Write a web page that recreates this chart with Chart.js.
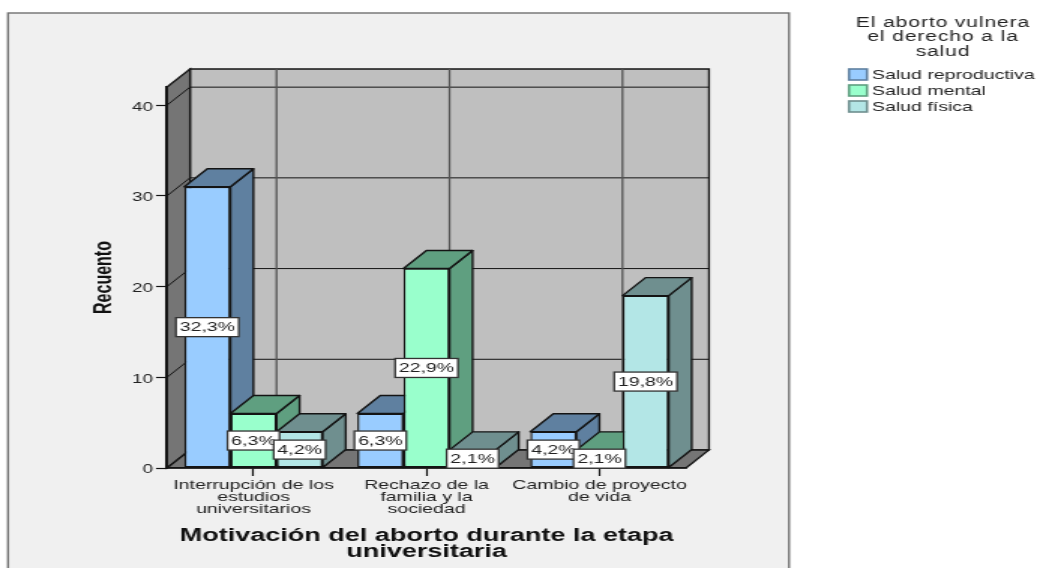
<!DOCTYPE html>
<html>
<head>
<meta charset="utf-8">
<title>Motivación del aborto</title>
<script src="https://cdn.jsdelivr.net/npm/chart.js@4"></script>
<style>
  html, body { margin: 0; padding: 0; background: #fff; overflow: hidden; width: 1037px; height: 568px; }
  /* the source picture is stretched sideways, so the whole canvas is too */
  #mycanvas { position: absolute; left: 0; top: 0; transform-origin: 0 0; filter: blur(0.35px); }
</style>
</head>
<body>
<canvas id="mycanvas" width="691" height="568"></canvas>
<script>
var categories = [
    ["Interrupción de los", "estudios", "universitarios"],
    ["Rechazo de la", "familia y la", "sociedad"],
    ["Cambio de proyecto", "de vida"]
];
var saludReproductiva = [31, 6, 4];
var saludMental = [6, 22, 2];
var saludFisica = [4, 2, 19];
var pctReproductiva = ["32,3%", "6,3%", "4,2%"];
var pctMental = ["6,3%", "22,9%", "2,1%"];
var pctFisica = ["4,2%", "2,1%", "19,8%"];
var seriesNames = ["Salud reproductiva", "Salud mental", "Salud física"];
var legendTitle = ["El aborto vulnera", "el derecho a la", "salud"];
var xTitle = ["Motivación del aborto durante la etapa", "universitaria"];
var yTitle = "Recuento";
var yTicks = [0, 10, 20, 30, 40];

var K = 1037 / 691;
function px(x) { return x / K; }
document.getElementById('mycanvas').style.transform = 'scaleX(' + K + ')';

var DX = px(23), DY = 18;
var LINE = '#141414';
var FONT = 'Liberation Sans, Arial, sans-serif';
var fronts = ['#99ccff', '#99ffcc', '#b3e6e6'];
var sides = ['#5f80a0', '#5f9f80', '#6f8f8f'];
var pcts = [pctReproductiva, pctMental, pctFisica];

function poly(ctx, pts, fill) {
    ctx.beginPath();
    ctx.moveTo(pts[0][0], pts[0][1]);
    for (var i = 1; i < pts.length; i++) ctx.lineTo(pts[i][0], pts[i][1]);
    ctx.closePath();
    if (fill) { ctx.fillStyle = fill; ctx.fill(); }
    ctx.stroke();
}

function seg(ctx, x1, y1, x2, y2) {
    ctx.beginPath();
    ctx.moveTo(x1, y1);
    ctx.lineTo(x2, y2);
    ctx.stroke();
}

// frame, back wall, side wall, floor and their grid
var walls = {
    id: 'walls',
    beforeDraw: function(chart) {
        var ctx = chart.ctx, a = chart.chartArea, y = chart.scales.y, x = chart.scales.x;
        ctx.save();
        ctx.fillStyle = '#f0f0f0';
        ctx.strokeStyle = '#707070';
        ctx.lineWidth = 1.4;
        ctx.fillRect(px(8), 13, px(781), 570);
        ctx.strokeRect(px(8), 13, px(781), 570);

        ctx.strokeStyle = LINE;
        ctx.lineWidth = 1.3;
        poly(ctx, [[a.left + DX, a.top - DY], [a.right + DX, a.top - DY], [a.right + DX, a.bottom - DY], [a.left + DX, a.bottom - DY]], '#bfbfbf');
        poly(ctx, [[a.left, a.top], [a.left + DX, a.top - DY], [a.left + DX, a.bottom - DY], [a.left, a.bottom]], '#757575');
        poly(ctx, [[a.left, a.bottom], [a.left + DX, a.bottom - DY], [a.right + DX, a.bottom - DY], [a.right, a.bottom]], '#757575');

        ctx.lineWidth = 1;
        yTicks.forEach(function(t) {
            if (t === 0) return;
            var py = y.getPixelForValue(t);
            seg(ctx, a.left, py, a.left + DX, py - DY);
            seg(ctx, a.left + DX, py - DY, a.right + DX, py - DY);
        });
        ctx.strokeStyle = '#555';
        ctx.lineWidth = 1.3;
        categories.forEach(function(c, i) {
            var p = x.getPixelForValue(i) + DX;
            seg(ctx, p, a.top - DY, p, a.bottom - DY);
        });
        ctx.restore();
    }
};

// series go left to right, each with its side and top faces, so neighbours overlap properly
var depth = {
    id: 'depth',
    beforeDatasetsDraw: function(chart) {
        var ctx = chart.ctx;
        chart.data.datasets.forEach(function(ds, i) {
            var meta = chart.getDatasetMeta(i);
            meta.controller.draw();
            ctx.save();
            ctx.strokeStyle = LINE;
            ctx.lineWidth = 1.4;
            ctx.lineJoin = 'round';
            meta.data.forEach(function(bar) {
                var p = bar.getProps(['x', 'y', 'base', 'width'], true);
                var l = p.x - p.width / 2, r = p.x + p.width / 2;
                poly(ctx, [[r, p.y], [r + DX, p.y - DY], [r + DX, p.base - DY], [r, p.base]], sides[i]);
                poly(ctx, [[l, p.y], [l + DX, p.y - DY], [r + DX, p.y - DY], [r, p.y]], sides[i]);
            });
            ctx.restore();
        });
        return false;
    }
};

// percentage boxes and the legend block
var notes = {
    id: 'notes',
    afterDraw: function(chart) {
        var ctx = chart.ctx;
        ctx.save();
        ctx.font = '13px ' + FONT;
        ctx.textAlign = 'center';
        ctx.textBaseline = 'middle';
        chart.data.datasets.forEach(function(ds, i) {
            chart.getDatasetMeta(i).data.forEach(function(bar, j) {
                var p = bar.getProps(['x', 'y', 'base'], true);
                var t = pcts[i][j];
                var w = ctx.measureText(t).width + 5, h = 19;
                var cy = (p.y + p.base) / 2;
                ctx.fillStyle = '#fff';
                ctx.strokeStyle = '#333';
                ctx.lineWidth = 1.3;
                ctx.fillRect(p.x - w / 2, cy - h / 2, w, h);
                ctx.strokeRect(p.x - w / 2, cy - h / 2, w, h);
                ctx.fillStyle = '#222';
                ctx.fillText(t, p.x, cy + 0.5);
            });
        });

        ctx.save();
        ctx.font = '14px ' + FONT;
        ctx.letterSpacing = '0.6px';
        legendTitle.forEach(function(t, i) {
            ctx.fillText(t, px(943), 23 + i * 14.5);
        });
        ctx.restore();

        ctx.textAlign = 'left';
        seriesNames.forEach(function(t, i) {
            var top = 69 + i * 16;
            ctx.fillStyle = fronts[i];
            ctx.strokeStyle = sides[i];
            ctx.lineWidth = 1.6;
            ctx.fillRect(px(849), top, px(18), 11);
            ctx.strokeRect(px(849), top, px(18), 11);
            ctx.fillStyle = '#222';
            ctx.fillText(t, px(872), top + 6);
        });
        ctx.restore();
    }
};

var ctx = document.getElementById('mycanvas');
var myChart = new Chart(ctx, {
    type: 'bar',
    data: {
        labels: categories,
        datasets: seriesNames.map(function(name, i) {
            return {
                label: name,
                data: [saludReproductiva, saludMental, saludFisica][i],
                backgroundColor: fronts[i],
                borderColor: LINE,
                borderWidth: 1.4,
                borderSkipped: false,
                categoryPercentage: 0.8,
                barPercentage: 1
            };
        })
    },
    options: {
        responsive: false,
        animation: false,
        events: [],
        devicePixelRatio: 1,
        layout: { padding: { top: 87, right: px(351), left: 0, bottom: 0 } },
        plugins: { legend: { display: false }, tooltip: { enabled: false } },
        scales: {
            x: {
                afterFit: function(s) { s.height = 100; },
                grid: { drawOnChartArea: false, offset: false, tickLength: 8, color: LINE, tickWidth: 1.2 },
                border: { color: LINE, width: 1.4 },
                ticks: {
                    autoSkip: false, maxRotation: 0, padding: 3, color: '#222',
                    font: { family: FONT, size: 13, lineHeight: 0.93 }
                },
                title: {
                    display: true, text: xTitle, color: '#111',
                    font: { family: FONT, size: 18, weight: 'bold', lineHeight: 0.9 },
                    padding: { top: 0, bottom: 8 }
                }
            },
            y: {
                min: 0,
                max: 42,
                afterFit: function(s) { s.width = px(167); },
                grid: { drawOnChartArea: false, tickLength: px(11), color: LINE, tickWidth: 1.2 },
                border: { color: LINE, width: 1.8 },
                ticks: {
                    stepSize: 10, includeBounds: false, padding: 2, labelOffset: 2, color: '#222',
                    font: { family: FONT, size: 12.5 }
                },
                title: {
                    display: true, text: yTitle, color: '#111',
                    font: { family: FONT, size: 16, weight: 'bold' },
                    padding: { top: 60, bottom: 0 }
                }
            }
        }
    },
    plugins: [walls, depth, notes]
});
</script>
</body>
</html>
